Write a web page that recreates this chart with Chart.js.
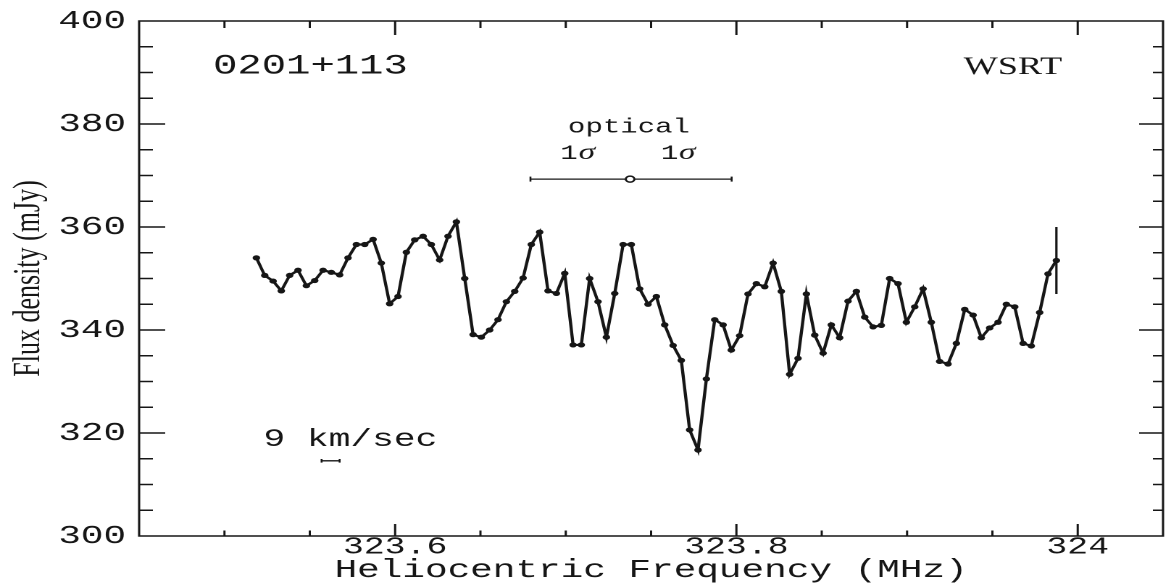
<!DOCTYPE html>
<html>
<head>
<meta charset="utf-8">
<script src="https://cdn.jsdelivr.net/npm/chart.js@4.4.1/dist/chart.umd.min.js"></script>
<style>
  html, body { margin: 0; padding: 0; background: #fff; }
</style>
</head>
<body>
<!-- the scanned figure is stretched sideways, so the canvas is drawn narrow and widened by css -->
<canvas id="spectrum" width="808" height="583" style="width:1171px;height:583px"></canvas>
<script>
const INK = '#161616';
const MONO = '"Liberation Mono", "DejaVu Sans Mono", monospace';
const SERIF = '"Liberation Serif", "DejaVu Serif", serif';

// channel frequencies (MHz)
const freqMHz = [
    323.5187, 323.5236, 323.5285, 323.5333, 323.5382, 323.5431, 323.5480, 323.5529, 323.5578, 323.5626,
    323.5675, 323.5724, 323.5773, 323.5822, 323.5871, 323.5919, 323.5968, 323.6017, 323.6066, 323.6115,
    323.6164, 323.6212, 323.6261, 323.6310, 323.6359, 323.6408, 323.6457, 323.6505, 323.6554, 323.6603,
    323.6652, 323.6701, 323.6750, 323.6798, 323.6847, 323.6896, 323.6945, 323.6994, 323.7043, 323.7091,
    323.7140, 323.7189, 323.7238, 323.7287, 323.7336, 323.7384, 323.7433, 323.7482, 323.7531, 323.7580,
    323.7629, 323.7677, 323.7726, 323.7775, 323.7824, 323.7873, 323.7922, 323.7970, 323.8019, 323.8068,
    323.8117, 323.8166, 323.8215, 323.8263, 323.8312, 323.8361, 323.8410, 323.8459, 323.8508, 323.8556,
    323.8605, 323.8654, 323.8703, 323.8752, 323.8801, 323.8849, 323.8898, 323.8947, 323.8996, 323.9045,
    323.9094, 323.9142, 323.9191, 323.9240, 323.9289, 323.9338, 323.9387, 323.9435, 323.9484, 323.9533,
    323.9582, 323.9631, 323.9680, 323.9728, 323.9777, 323.9826, 323.9875
];

// flux density per channel (mJy)
const fluxMJy = [
    354.0, 350.6, 349.5, 347.6, 350.6, 351.6, 348.6, 349.6, 351.6, 351.2,
    350.7, 354.0, 356.6, 356.6, 357.6, 353.0, 345.1, 346.5, 355.1, 357.5,
    358.2, 356.6, 353.6, 358.2, 361.0, 350.0, 339.1, 338.6, 340.0, 342.0,
    345.5, 347.5, 350.1, 356.6, 359.0, 347.6, 347.1, 351.0, 337.1, 337.1,
    350.0, 345.5, 338.6, 347.1, 356.6, 356.6, 348.0, 345.0, 346.5, 341.0,
    337.0, 334.1, 320.6, 316.7, 330.5, 342.0, 341.0, 336.1, 338.9, 347.0,
    349.0, 348.4, 353.0, 347.5, 331.4, 334.5, 347.0, 339.0, 335.5, 341.0,
    338.5, 345.6, 347.5, 342.5, 340.6, 340.9, 350.0, 349.0, 341.5, 344.5,
    348.0, 341.5, 333.9, 333.4, 337.4, 344.0, 342.9, 338.5, 340.4, 341.5,
    345.0, 344.5, 337.4, 336.9, 343.4, 350.9, 353.5
];

// axis ticks
const freqTicks = [323.6, 323.8, 324.0];
const freqTickLabels = ['323.6', '323.8', '324'];
const fluxTicks = [300, 320, 340, 360, 380, 400];
const fluxTickLabels = ['300', '320', '340', '360', '380', '400'];

// optical redshift and its 1 sigma range
const opticalFreq = 323.7377;
const opticalRange = [323.6793, 323.7972];
const opticalFlux = 369.3;

// 9 km/sec resolution bar
const velBarFreq = [323.5569, 323.5675];
const velBarFlux = 314.6;

// error bar drawn on the last channel
const errBarFlux = [360.0, 347.0];

const lastFreq = freqMHz[freqMHz.length - 1];

// inward tick marks, frame and the text inside the plot
const axisFrame = {
    id: 'axisFrame',
    afterDraw(chart) {
        const { ctx, chartArea: a, scales: { x, y } } = chart;
        ctx.save();
        ctx.strokeStyle = INK;
        ctx.lineWidth = 1.5;
        ctx.strokeRect(a.left, a.top, a.right - a.left, a.bottom - a.top);

        ctx.beginPath();
        for (let k = 1; k < 20; k++) {
            const py = y.getPixelForValue(300 + 5 * k);
            const major = k % 4 === 0;
            ctx.moveTo(a.left, py);
            ctx.lineTo(a.left + (major ? 18 : 9.5), py);
            ctx.moveTo(a.right, py);
            ctx.lineTo(a.right - (major ? 16.5 : 7), py);
        }
        for (let k = 1; k < 12; k++) {
            const px = x.getPixelForValue(323.45 + 0.05 * k);
            const major = (k - 3) % 4 === 0;
            ctx.moveTo(px, a.bottom);
            ctx.lineTo(px, a.bottom - (major ? 12 : 5.5));
            ctx.moveTo(px, a.top);
            ctx.lineTo(px, a.top + (major ? 14 : 7));
        }
        ctx.stroke();

        ctx.fillStyle = INK;
        var put = function (text, fx, fy, font, align, base) {
            ctx.font = font;
            ctx.textAlign = align;
            ctx.textBaseline = base || 'middle';
            ctx.fillText(text, x.getPixelForValue(fx), y.getPixelForValue(fy));
        };
        put('0201+113', 323.4933, 391.2, '28px ' + MONO, 'left');
        put('WSRT', 323.962, 391.0, '25px ' + SERIF, 'center');
        put('optical', 323.737, 379.4, '20px ' + MONO, 'center');
        put('1', 323.7070, 373.2, '20px ' + MONO, 'right', 'alphabetic');
        put('\u03c3', 323.7075, 373.2, 'italic 23px ' + SERIF, 'left', 'alphabetic');
        put('1', 323.7659, 373.2, '20px ' + MONO, 'right', 'alphabetic');
        put('\u03c3', 323.7664, 373.2, 'italic 23px ' + SERIF, 'left', 'alphabetic');
        put('9 km/sec', 323.5228, 318.8, '25px ' + MONO, 'left');
        ctx.restore();
    }
};

var chart = new Chart(document.getElementById('spectrum'), {
    type: 'scatter',
    data: {
        datasets: [
            {
                data: freqMHz.map((f, i) => ({ x: f, y: fluxMJy[i] })),
                showLine: true,
                borderColor: INK,
                borderWidth: 2.2,
                pointRadius: 2.6,
                pointBackgroundColor: INK,
                pointBorderWidth: 0
            },
            {
                data: [{ x: opticalFreq, y: opticalFlux }],
                pointRadius: 3,
                pointBackgroundColor: '#fff',
                pointBorderColor: INK,
                pointBorderWidth: 1.5
            },
            {
                data: opticalRange.map(f => ({ x: f, y: opticalFlux })),
                showLine: true,
                borderColor: INK,
                borderWidth: 1.3,
                pointStyle: 'line',
                pointRotation: 90,
                pointRadius: 2.5,
                pointBorderColor: INK,
                pointBorderWidth: 1.3
            },
            {
                data: velBarFreq.map(f => ({ x: f, y: velBarFlux })),
                showLine: true,
                borderColor: INK,
                borderWidth: 1.4,
                pointStyle: 'line',
                pointRotation: 90,
                pointRadius: 1.8,
                pointBorderColor: INK,
                pointBorderWidth: 1.3
            },
            {
                data: errBarFlux.map(v => ({ x: lastFreq, y: v })),
                showLine: true,
                borderColor: INK,
                borderWidth: 1.6,
                pointRadius: 0
            }
        ]
    },
    options: {
        responsive: false,
        devicePixelRatio: 2,
        animation: false,
        layout: { padding: { top: 21, right: 1, bottom: 0, left: 0 } },
        plugins: { legend: { display: false }, tooltip: { enabled: false } },
        scales: {
            x: {
                type: 'linear',
                min: 323.45,
                max: 324.05,
                grid: { display: false },
                border: { display: false },
                afterBuildTicks: s => { s.ticks = freqTicks.map(v => ({ value: v })); },
                afterFit: s => { s.height = 47; },
                ticks: {
                    autoSkip: false,
                    maxRotation: 0,
                    padding: -9,
                    color: INK,
                    font: { family: MONO, size: 24, lineHeight: 1 },
                    callback: (v, i) => freqTickLabels[i]
                },
                title: {
                    display: true,
                    text: 'Heliocentric Frequency (MHz)',
                    color: INK,
                    padding: { top: 0, bottom: 0 },
                    font: { family: MONO, size: 26, lineHeight: 1 }
                }
            },
            y: {
                min: 300,
                max: 400,
                grid: { display: false },
                border: { display: false },
                afterBuildTicks: s => { s.ticks = fluxTicks.map(v => ({ value: v })); },
                afterFit: s => { s.width = 96; },
                ticks: {
                    padding: 1,
                    color: INK,
                    font: { family: MONO, size: 26, lineHeight: 1 },
                    callback: (v, i) => fluxTickLabels[i]
                },
                title: {
                    display: true,
                    text: 'Flux density (mJy)',
                    color: INK,
                    padding: { top: 7, bottom: 0 },
                    font: { family: SERIF, size: 26, lineHeight: 1 }
                }
            }
        }
    },
    plugins: [axisFrame]
});
</script>
</body>
</html>
